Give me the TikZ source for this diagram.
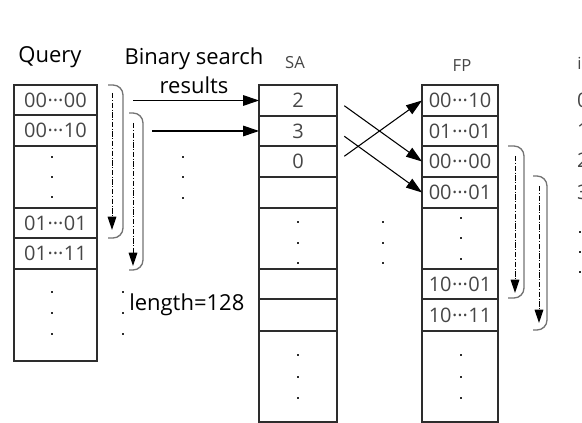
\documentclass[tikz,border=0pt]{standalone}
\usepackage{fontspec}
\setmainfont{Open Sans}
\usetikzlibrary{arrows.meta, positioning}
\definecolor{celltext}{RGB}{70, 70, 70}
\definecolor{cellline}{RGB}{45, 45, 45}
\definecolor{bracketcolor}{RGB}{115, 115, 115}
\newcommand\midots{\kern0.3pt···\kern0.3pt}

\tikzset{
    cell/.style={draw=cellline, line width=0.9pt, inner sep=0pt, outer sep=0pt, text=celltext, font=\fontsize{15}{17}\selectfont},
    headtext/.style={font=\fontsize{16.5}{21.75}\selectfont, text=black, inner sep=0pt},
    colname/.style={font=\fontsize{12.5}{15}\selectfont, text=celltext, inner sep=0pt},
    link/.style={-{Triangle[length=12pt, width=8pt]}, line width=0.8pt},
    scan/.style={-{Triangle[length=10pt, width=6.5pt]}, line width=0.75pt, dash pattern=on 4pt off 1.2pt on 0.8pt off 1.2pt},
    bracket/.style={draw=bracketcolor, line width=1pt, rounded corners=7.5pt},
}

\begin{document}
\begin{tikzpicture}[x=0.75pt, y=-0.75pt]
    \useasboundingbox (0,0) rectangle (582,423);

    % Column titles
    \node[headtext] (qtitle) at (50, 57) {Query};
    \node[headtext, align=center] (bstitle) at (194, 71) {Binary search\\results};
    \node[colname] (satitle) at (295, 63) {SA};
    \node[colname] (fptitle) at (462, 66) {FP};
    \node[colname, anchor=west] (ititle) at (577, 63) {i};

    % Query column
    \foreach \nm/\ya/\yb/\txt in {q1/85/115/00\midots00, q2/115/146/00\midots10, q3/146/208/{}, q4/208/238/01\midots01, q5/238/269/01\midots11, q6/269/361/{}}
        \node[cell, minimum width={83*0.75pt}, minimum height={(\yb-\ya)*0.75pt}] (\nm) at (55.5, {(\ya+\yb)/2}) {\txt};

    % SA column
    \foreach \nm/\ya/\yb/\txt in {s1/85/116/2, s2/116/146/3, s3/146/177/0, s4/177/208/{}, s5/208/269/{}, s6/269/299/{}, s7/299/331/{}, s8/331/422/{}}
        \node[cell, minimum width={78*0.75pt}, minimum height={(\yb-\ya)*0.75pt}] (\nm) at (298, {(\ya+\yb)/2}) {\txt};

    % FP column
    \foreach \nm/\ya/\yb/\txt in {f1/85/116/00\midots10, f2/116/146/01\midots01, f3/146/177/00\midots00, f4/177/208/00\midots01, f5/208/269/{}, f6/269/299/10\midots01, f7/299/331/10\midots11, f8/331/422/{}}
        \node[cell, minimum width={76*0.75pt}, minimum height={(\yb-\ya)*0.75pt}] (\nm) at (460, {(\ya+\yb)/2}) {\txt};

    % i column (cut by the right edge)
    \foreach \nm/\y/\txt in {i0/100/0, i1/130/1, i2/160/2, i3/192/3}
        \node[cell, draw=none, anchor=west] (\nm) at (577, \y) {\txt};

    % vertical dots
    \foreach \x/\y in {52/157, 52/177, 52/197, 52/292, 52/313, 52/334,
                       183/157, 183/177, 183/198, 123/292, 123/313, 123/334,
                       298/222, 298/243, 298/263, 298/355, 298/377, 298/398,
                       383/222, 383/243, 383/263,
                       461/218, 461/238, 461/259, 461/355, 461/377, 461/398,
                       580/232, 580/252, 580/272}
        \fill[cellline] (\x-1.3,\y-1.3) rectangle (\x+1.3,\y+1.3);

    % length note
    \node[headtext, anchor=west] (lennote) at (129, 305) {length=128};

    % scan brackets next to Query
    \draw[bracket] (108,85) -- (123,85) -- (123,238) -- (108,238);
    \draw[scan] (112,93) -- (112,230);
    \draw[bracket] (129,113) -- (143,113) -- (143,270) -- (129,270);
    \draw[scan] (133,123) -- (133,266);

    % scan brackets next to FP
    \draw[bracket] (508,146) -- (524,146) -- (524,298) -- (508,298);
    \draw[scan] (515,156) -- (515,293);
    \draw[bracket] (533,176) -- (547,176) -- (547,330) -- (533,330);
    \draw[scan] (539,186) -- (539,323);

    % binary search results into SA
    \coordinate (r1) at (133, 100.5);
    \coordinate (r2) at (152, 131);
    \draw[link] (r1) -- (s1.west);
    \draw[link] (r2) -- (s2.west);

    % SA entries to FP rows
    \draw[link, shorten <=6.75pt] (s1.east) -- (f3.west);
    \draw[link, shorten <=6.75pt] (s2.east) -- (f4.west);
    \draw[link, shorten <=6.75pt] (s3.east) -- (f1.west);

\end{tikzpicture}
\end{document}
